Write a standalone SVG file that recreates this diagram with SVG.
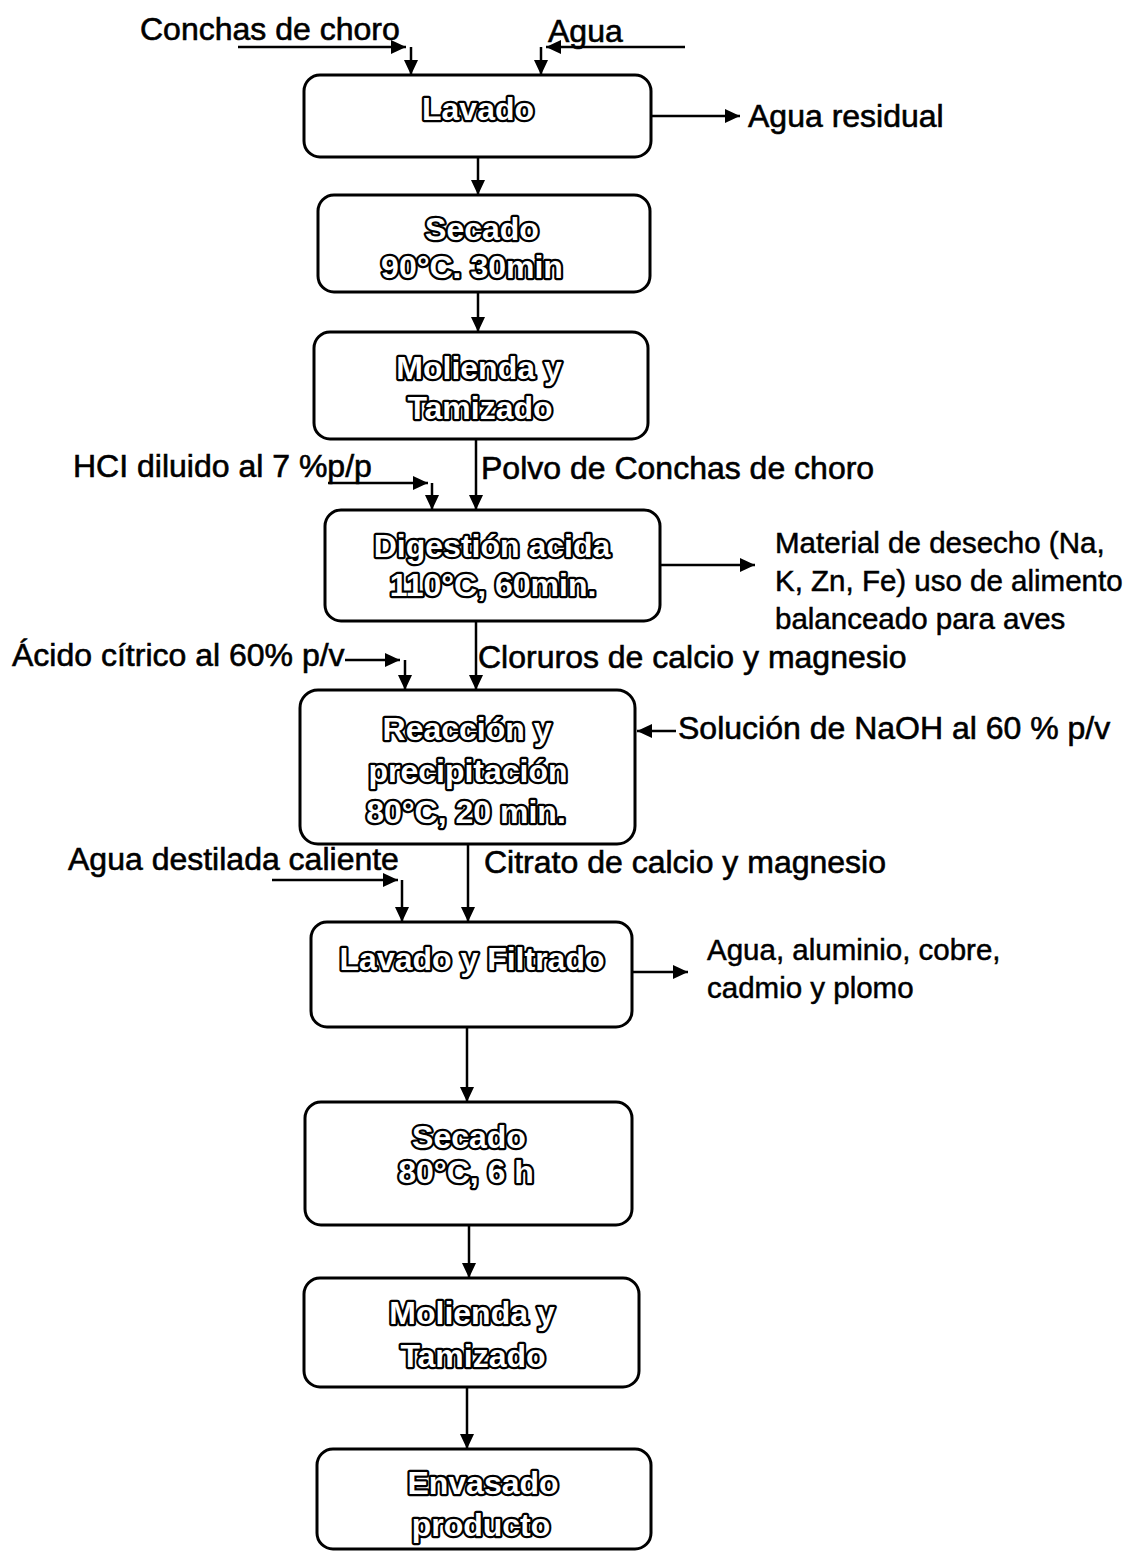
<svg xmlns="http://www.w3.org/2000/svg" width="1126" height="1551" viewBox="0 0 1126 1551">
<style>
.box{fill:#fff;stroke:#000;stroke-width:3}
.nt{font-family:"Liberation Sans",Arial,sans-serif;font-weight:bold;font-size:32px;fill:#fff;stroke:#000;stroke-width:4.5;paint-order:stroke;stroke-linejoin:round;text-anchor:middle}
.lb{font-family:"Liberation Sans",Arial,sans-serif;font-size:32px;fill:#000;stroke:#000;stroke-width:0.6}
.sm{font-family:"Liberation Sans",Arial,sans-serif;font-size:29.5px;fill:#000;stroke:#000;stroke-width:0.5}
.c{fill:none;stroke:#000;stroke-width:2.5}
</style>
<defs>
<marker id="ah" markerUnits="userSpaceOnUse" markerWidth="16" markerHeight="14" refX="15" refY="7" orient="auto">
<path d="M0,0 L15,7 L0,14 z" fill="#000"/>
</marker>
</defs>
<rect width="1126" height="1551" fill="#fff"/>
<g id="connectors">
<path class="c" d="M238,47 H406" marker-end="url(#ah)"/>
<path class="c" d="M411,47 V75" marker-end="url(#ah)"/>
<path class="c" d="M685,47 H546" marker-end="url(#ah)"/>
<path class="c" d="M541,47 V75" marker-end="url(#ah)"/>
<path class="c" d="M651,116 H740" marker-end="url(#ah)"/>
<path class="c" d="M478,157 V195" marker-end="url(#ah)"/>
<path class="c" d="M478,292 V332" marker-end="url(#ah)"/>
<path class="c" d="M476,439 V510" marker-end="url(#ah)"/>
<path class="c" d="M328,483 H428" marker-end="url(#ah)"/>
<path class="c" d="M432,483 V510" marker-end="url(#ah)"/>
<path class="c" d="M660,565 H755" marker-end="url(#ah)"/>
<path class="c" d="M476,621 V690" marker-end="url(#ah)"/>
<path class="c" d="M345,660 H400" marker-end="url(#ah)"/>
<path class="c" d="M405,660 V690" marker-end="url(#ah)"/>
<path class="c" d="M676,731 H637" marker-end="url(#ah)"/>
<path class="c" d="M468,844 V922" marker-end="url(#ah)"/>
<path class="c" d="M272,880 H398" marker-end="url(#ah)"/>
<path class="c" d="M402,880 V922" marker-end="url(#ah)"/>
<path class="c" d="M632,972 H688" marker-end="url(#ah)"/>
<path class="c" d="M467,1027 V1102" marker-end="url(#ah)"/>
<path class="c" d="M469,1225 V1278" marker-end="url(#ah)"/>
<path class="c" d="M467,1387 V1449" marker-end="url(#ah)"/>
</g>
<g id="labels">
<text class="lb" x="140" y="40">Conchas de choro</text>
<text class="lb" x="548" y="42">Agua</text>
<text class="lb" x="748" y="127">Agua residual</text>
<text class="lb" x="73" y="477">HCI diluido al 7 %p/p</text>
<text class="lb" x="481" y="479">Polvo de Conchas de choro</text>
<text class="sm" x="775" y="553">Material de desecho (Na,</text>
<text class="sm" x="775" y="591">K, Zn, Fe) uso de alimento</text>
<text class="sm" x="775" y="629">balanceado para aves</text>
<text class="lb" x="12" y="666">Ácido cítrico al 60% p/v</text>
<text class="lb" x="478" y="668">Cloruros de calcio y magnesio</text>
<text class="lb" x="678" y="739">Solución de NaOH al 60 % p/v</text>
<text class="lb" x="68" y="870">Agua destilada caliente</text>
<text class="lb" x="484" y="873">Citrato de calcio y magnesio</text>
<text class="sm" x="707" y="960">Agua, aluminio, cobre,</text>
<text class="sm" x="707" y="998">cadmio y plomo</text>
</g>
<g id="n1"><rect class="box" x="304" y="75" width="347" height="82" rx="16"/><text class="nt" x="478" y="120">Lavado</text></g>
<g id="n2"><rect class="box" x="318" y="195" width="332" height="97" rx="16"/><text class="nt" x="482" y="240">Secado</text><text class="nt" x="472" y="278">90°C. 30min</text></g>
<g id="n3"><rect class="box" x="314" y="332" width="334" height="107" rx="16"/><text class="nt" x="479" y="379">Molienda y</text><text class="nt" x="480" y="419">Tamizado</text></g>
<g id="n4"><rect class="box" x="325" y="510" width="335" height="111" rx="16"/><text class="nt" x="492" y="557">Digestión acida</text><text class="nt" x="493" y="596">110°C, 60min.</text></g>
<g id="n5"><rect class="box" x="300" y="690" width="335" height="154" rx="18"/><text class="nt" x="467" y="740">Reacción  y</text><text class="nt" x="468" y="782">precipitación</text><text class="nt" x="466" y="823">80°C, 20 min.</text></g>
<g id="n6"><rect class="box" x="311" y="922" width="321" height="105" rx="16"/><text class="nt" x="472" y="970">Lavado y Filtrado</text></g>
<g id="n7"><rect class="box" x="305" y="1102" width="327" height="123" rx="16"/><text class="nt" x="469" y="1148">Secado</text><text class="nt" x="466" y="1183">80°C, 6 h</text></g>
<g id="n8"><rect class="box" x="304" y="1278" width="335" height="109" rx="16"/><text class="nt" x="472" y="1324">Molienda y</text><text class="nt" x="473" y="1367">Tamizado</text></g>
<g id="n9"><rect class="box" x="317" y="1449" width="334" height="100" rx="16"/><text class="nt" x="483" y="1494">Envasado</text><text class="nt" x="481" y="1536">producto</text></g>
</svg>
